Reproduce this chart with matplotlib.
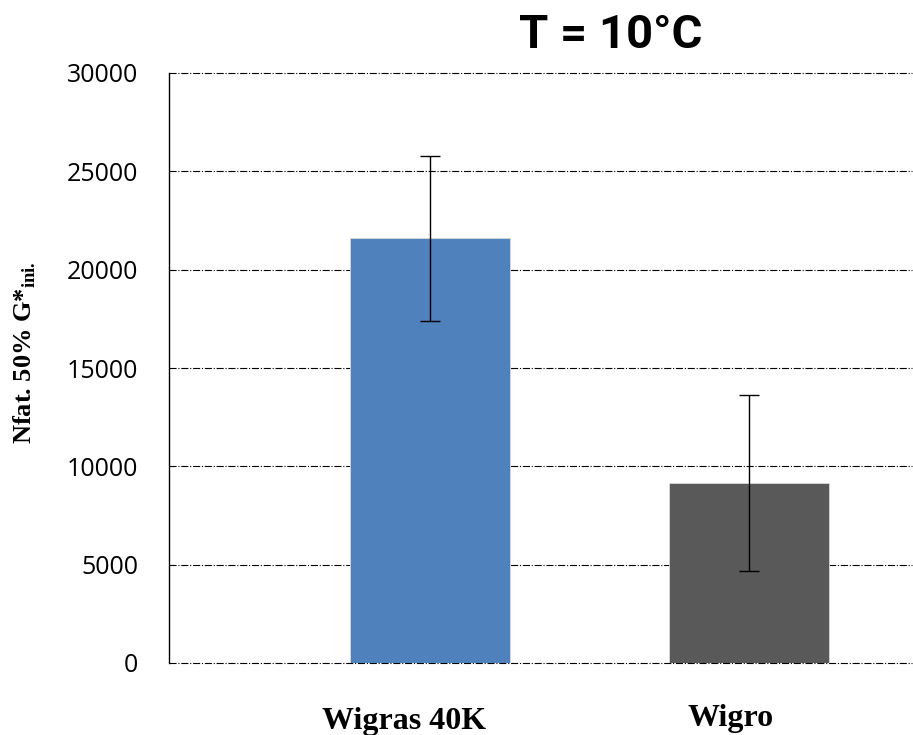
import numpy as np
import matplotlib
matplotlib.use("Agg")
import matplotlib.pyplot as plt
from matplotlib.transforms import blended_transform_factory

# values
categories = ["Wigras 40K", "Wigro"]
means = [21600, 9150]
errors = [4200, 4480]
bar_colors = ["#4F81BD", "#595959"]
yticks = [0, 5000, 10000, 15000, 20000, 25000, 30000]

plt.rcParams["mathtext.fontset"] = "custom"
plt.rcParams["mathtext.rm"] = "Liberation Serif:bold"
plt.rcParams["mathtext.bf"] = "Liberation Serif:bold"

W, H = 913, 735
fig = plt.figure(figsize=(W / 100, H / 100), dpi=100)
ax = fig.add_axes([169 / W, 1 - 663 / H, (912 - 169) / W, (663 - 73) / H])

x = np.arange(len(categories))
ax.bar(x, means, width=0.5, color=bar_colors, edgecolor="#d9d9d9", linewidth=0.6, zorder=2)
ax.errorbar(x, means, yerr=errors, fmt="none", ecolor="black", elinewidth=1.0,
            capsize=7, capthick=1.0, zorder=3)

ax.set_xlim(-0.818, 1.51)
ax.set_ylim(0, 30000)
ax.set_yticks(yticks)
ax.set_yticklabels([str(v) for v in yticks], fontsize=18, family="Open Sans")
ax.tick_params(axis="y", length=0, pad=22)
ax.set_xticks([])

ax.grid(axis="y", color="black", linestyle="-.", linewidth=0.8, zorder=1)
for gl in ax.get_ygridlines():
    gl.set_clip_on(False)
for s in ["top", "right", "bottom"]:
    ax.spines[s].set_visible(False)
ax.spines["left"].set_linewidth(1.0)
ax.spines["left"].set_zorder(4)

# category labels sit a bit left of the bar centres, as in the original
trans = blended_transform_factory(ax.transData, fig.transFigure)
label_y = [6 / H, 9 / H]
label_dx = [-0.08, -0.06]
for xi, name, ly, dx in zip(x, categories, label_y, label_dx):
    ax.text(xi + dx, ly, name, transform=trans, ha="center", va="baseline",
            fontsize=23, fontweight="bold", family="Liberation Serif", clip_on=False)

fig.text(25 / W, 0.52, r"Nfat. 50% G*$_{\mathrm{ini.}}$", rotation=90, ha="center", va="center",
         fontsize=19, fontweight="bold", family="Liberation Serif")

fig.text(611 / W, 1 - 35 / H, "T = 10°C", ha="center", va="center",
         fontsize=34, fontweight="bold", family="Roboto")

fig.savefig("out.png", dpi=100)
